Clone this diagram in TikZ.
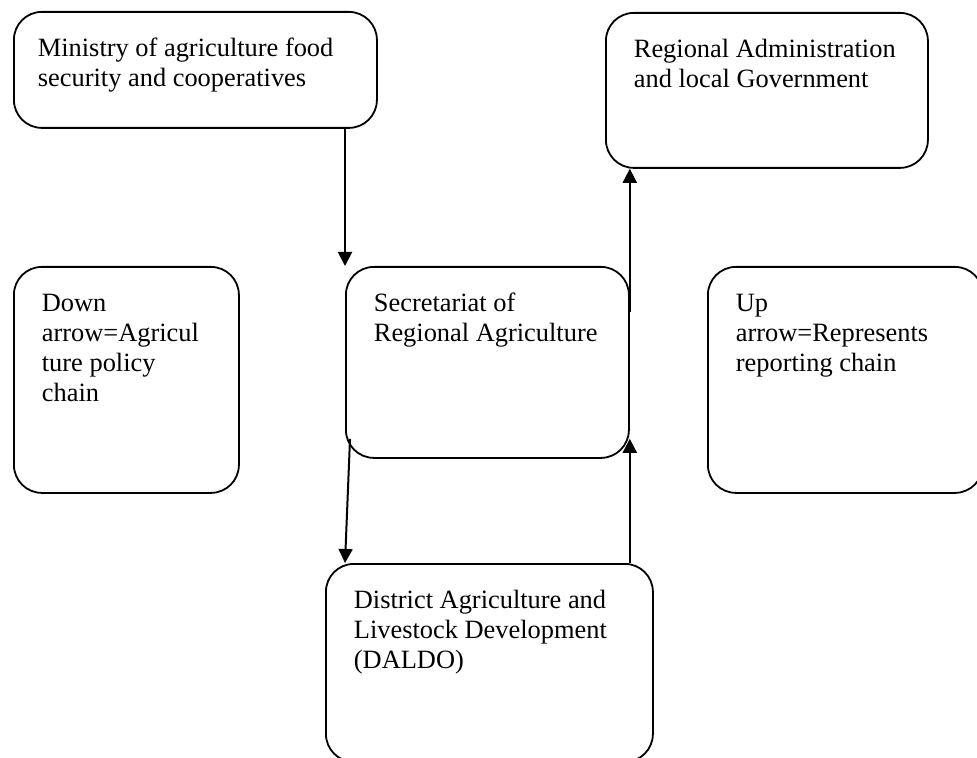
\documentclass[tikz,border=0pt]{standalone}
\usepackage{fontspec}
\setmainfont{Liberation Serif}
\usepackage{tikz}
\usetikzlibrary{arrows.meta}

% text block of a box: width and height in pixels of the box
\newcommand{\boxtxt}[3]{\parbox[t][\dimexpr #2pt/2-24pt\relax][t]{\dimexpr #1pt/2-28pt\relax}{\raggedright\strut #3}}

\begin{document}
\begin{tikzpicture}[
                x=0.5pt, y=-0.5pt,
                box/.style={draw, line width=0.9pt, rounded corners=14pt, anchor=north west, inner xsep=14pt, inner ysep=12pt, font=\fontsize{13.2}{15}\selectfont},
                arrow/.style={-{Triangle[width=7pt,length=7pt]}, line width=1pt}
            ]

            \useasboundingbox (0,0) rectangle (977,758);

            \node[box, inner xsep=12pt] (min) at (13,11) {\boxtxt{371}{116}{Ministry of agriculture food\\security and cooperatives}};

            \node[box] (reg) at (605,12) {\boxtxt{322}{155}{Regional Administration\\and local Government}};

            \node[box] (down) at (13,266) {\boxtxt{225}{226}{Down\\arrow=Agricul\\ture policy\\chain}};

            \node[box] (sec) at (345,266) {\boxtxt{283}{191}{Secretariat of\\Regional Agriculture}};

            \node[box] (up) at (707,266) {\boxtxt{275}{226}{Up\\arrow=Represents\\reporting chain}};

            \node[box] (dal) at (325,563) {\boxtxt{327}{198}{District Agriculture and\\Livestock Development\\(DALDO)}};

            \draw[arrow] (min.south -| sec.west) -- (sec.north west);
            \draw[arrow] ([yshift=-23pt]sec.north east) -- (sec.east |- reg.south);
            \draw[arrow] ([shift={(2.5pt,10pt)}]sec.south west) -- (sec.west |- dal.north);
            \draw[arrow] (sec.east |- dal.north) -- ([yshift=10pt]sec.south east);

        \end{tikzpicture}
\end{document}
